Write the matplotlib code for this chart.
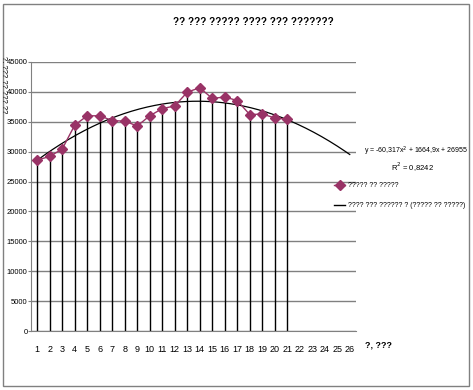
import numpy as np
import matplotlib
matplotlib.use("Agg")
import matplotlib.pyplot as plt
from matplotlib.patches import Rectangle
from matplotlib.lines import Line2D

plt.rcParams['font.family'] = ['Liberation Sans', 'DejaVu Sans']

# data
periods = list(range(1, 22))
values = [28600, 29200, 30450, 34450, 36000, 36000, 35200, 35100, 34300, 36000,
          37200, 37650, 39950, 40700, 38900, 39150, 38550, 36200, 36300, 35650, 35400]
tick_labels = [str(i) for i in range(1, 27)]
y_ticks = [0, 5000, 10000, 15000, 20000, 25000, 30000, 35000, 40000, 45000]

title = "?? ??? ????? ???? ??? ???????"
y_label = "?. ??? ?? ??? ??"
x_label = "?, ???"
series_name = "????? ?? ?????"
trend_name = "???? ??? ?????? ? (????? ?? ?????)"
equation = "y = -60,317x$^2$ + 1664,9x + 26955"
r_squared = "R$^2$ = 0,8242"

W, H = 473, 390
fig = plt.figure(figsize=(W / 100, H / 100), dpi=100)
ax = fig.add_axes([31 / W, 1 - 331 / H, 325 / W, 269 / H])

# drop lines
ax.vlines(periods, 0, values, colors='black', lw=1, zorder=2)

# polynomial trend (order 2), forecast to period 26
coef = np.polyfit(periods, values, 2)
xs = np.linspace(1, 26, 200)
ax.plot(xs, np.polyval(coef, xs), color='black', lw=0.9, zorder=3)

ax.plot(periods, values, color='#993366', lw=1, marker='D', ms=5,
        markerfacecolor='#993366', markeredgecolor='#993366', zorder=4)

ax.set_xlim(0.5, 26.5)
ax.set_ylim(0, 45000)
ax.set_xticks(range(1, 27))
ax.set_xticklabels(tick_labels)
ax.set_yticks(y_ticks)
ax.grid(axis='y', color='#808080', lw=1)
ax.set_axisbelow(True)
for s in ['top', 'right']:
    ax.spines[s].set_visible(False)
for s in ['left', 'bottom']:
    ax.spines[s].set_color('#808080')
ax.tick_params(axis='x', length=0, pad=10, labelsize=6.5)
ax.tick_params(axis='y', length=2, color='#808080', pad=0.5, labelsize=5.5)

fig.text(253 / W, 1 - 22 / H, title, ha='center', va='center', fontsize=7, fontweight='bold')
fig.text(3.5 / W, 1 - 56 / H, y_label, rotation=-90, ha='center', va='top', fontsize=5.5)
fig.text(365 / W, 1 - 345 / H, x_label, ha='left', va='center', fontsize=6.5, fontweight='bold')
fig.text(364 / W, 1 - 151 / H, equation, ha='left', va='center', fontsize=5)
fig.text(412 / W, 1 - 167 / H, r_squared, ha='center', va='center', fontsize=5.5)

handles = [Line2D([], [], color='#993366', lw=1, marker='D', ms=5),
           Line2D([], [], color='black', lw=1)]
fig.legend(handles, [series_name, trend_name], loc='upper left',
           bbox_to_anchor=(331 / W, 1 - 179 / H), frameon=False, fontsize=5,
           handlelength=1.5, handletextpad=0.4, labelspacing=1.8, borderpad=0)

fig.patches.append(Rectangle((3 / W, 4 / H), 466 / W, 382 / H, transform=fig.transFigure,
                             fill=False, edgecolor='#808080', lw=1))

fig.savefig('out.png', dpi=100)
